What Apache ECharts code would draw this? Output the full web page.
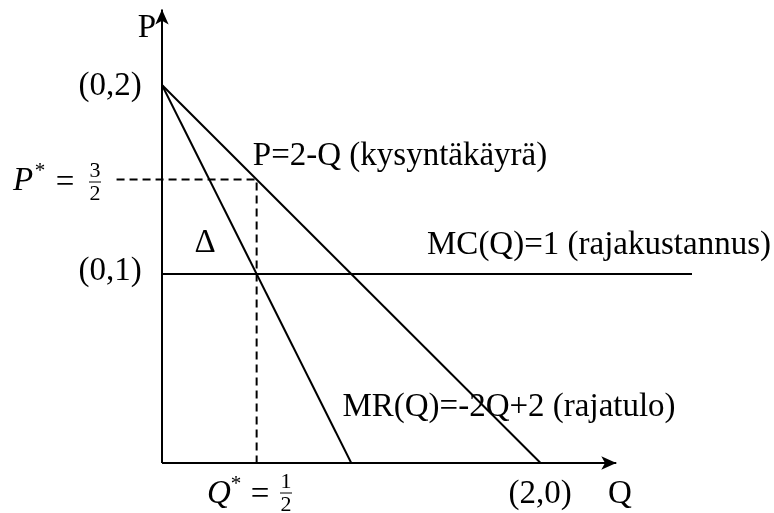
<!DOCTYPE html>
<html>
<head>
<meta charset="utf-8">
<script src="https://cdn.jsdelivr.net/npm/echarts@6/dist/echarts.min.js"></script>
<style>
	html, body { margin: 0; padding: 0; background: #fff; }
	#chart { width: 774px; height: 513px; }
</style>
</head>
<body>
<div id="chart"></div>
<script>
// kysyntä P = 2 - Q
var demandQ = [0, 2];
var demandP = [2, 0];
// rajatulo MR = -2Q + 2
var mrQ = [0, 1];
var mrP = [2, 0];
// rajakustannus MC = 1
var mcQ = [0, 2.8];
var mcP = [1, 1];
// optimi
var qStar = 0.5;
var pStar = 1.5;
var dashStartQ = -0.24;
var axisEnd = 2.4;

var FONT = '"Liberation Serif", "Times New Roman", serif';
var SIZE = 33;

function pairs(xs, ys)
{
	var out = [];
	for (var i = 0; i < xs.length; i++) out.push([xs[i], ys[i]]);
	return out;
}

var lineStyle = { color: '#000', width: 2 };

var chart = echarts.init(document.getElementById('chart'));

var options =
{
	animation: false,
	grid: { left: 105.2, top: 9.4, width: 586.8, height: 453.6 },
	xAxis: { type: 'value', min: -0.3, max: 2.8, show: false },
	yAxis: { type: 'value', min: 0, max: 2.4, show: false },
	series:
	[
		{
			name: 'akselit',
			type: 'line',
			data: [],
			silent: true,
			markLine:
			{
				silent: true,
				symbol: ['none', 'arrow'],
				symbolSize: [10, 15],
				label: { show: false },
				lineStyle: { color: '#000', width: 2, type: 'solid' },
				data:
				[
					[{ coord: [0, 0] }, { coord: [axisEnd, 0] }],
					[{ coord: [0, 0] }, { coord: [0, axisEnd] }]
				]
			}
		},
		{ name: 'P=2-Q', type: 'line', symbol: 'none', lineStyle: lineStyle, data: pairs(demandQ, demandP) },
		{ name: 'MR', type: 'line', symbol: 'none', lineStyle: lineStyle, data: pairs(mrQ, mrP) },
		{ name: 'MC', type: 'line', symbol: 'none', lineStyle: lineStyle, data: pairs(mcQ, mcP) },
		{
			name: 'optimi',
			type: 'line',
			symbol: 'none',
			lineStyle: { color: '#000', width: 2, type: [8, 5] },
			data: [[dashStartQ, pStar], [qStar, pStar], [qStar, 0]]
		}
	]
};

chart.setOption(options);

function txt(x, y, s, size, extra)
{
	var st = { text: s, x: x, y: y, fill: '#000', font: (extra && extra.italic ? 'italic ' : '') + size + 'px ' + FONT,
		textAlign: (extra && extra.align) || 'center', textVerticalAlign: 'middle' };
	return { type: 'text', silent: true, style: st };
}

function frac(x, y, num, den)
{
	return [
		txt(x, y - 10, num, 22),
		{ type: 'line', silent: true, shape: { x1: x - 6, y1: y + 1, x2: x + 6, y2: y + 1 }, style: { stroke: '#000', lineWidth: 1 } },
		txt(x, y + 13, den, 22)
	];
}

var graphics =
[
	txt(147, 28, 'P', SIZE),
	txt(110, 86, '(0,2)', SIZE),
	txt(110, 271, '(0,1)', SIZE),
	txt(23, 181, 'P', SIZE, { italic: true }),
	txt(40, 171, '*', 21),
	txt(65, 183, '=', SIZE),
	txt(400, 156, 'P=2-Q (kysyntäkäyrä)', SIZE),
	txt(205, 243, 'Δ', SIZE),
	txt(599, 245, 'MC(Q)=1 (rajakustannus)', SIZE),
	txt(509, 407, 'MR(Q)=-2Q+2 (rajatulo)', SIZE),
	txt(219, 494, 'Q', SIZE, { italic: true }),
	txt(236, 484, '*', 21),
	txt(260, 495, '=', SIZE),
	txt(540, 494, '(2,0)', SIZE),
	txt(620, 494, 'Q', SIZE)
].concat(frac(95, 181, '3', '2')).concat(frac(286, 492, '1', '2'));

chart.setOption({ graphic: graphics });
</script>
</body>
</html>
